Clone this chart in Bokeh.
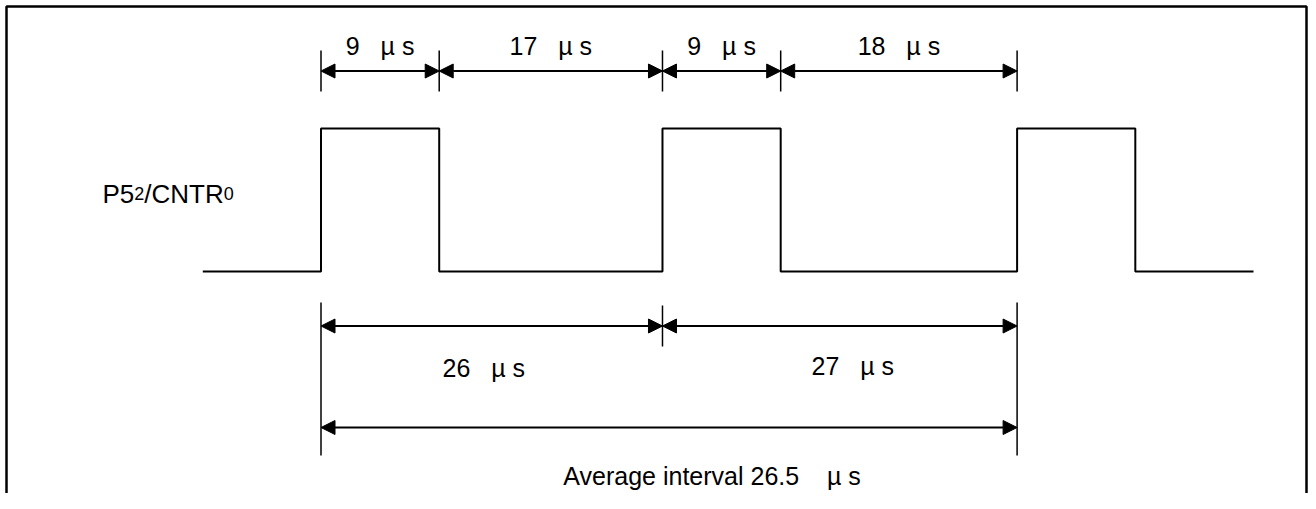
from bokeh.plotting import figure
from bokeh.models import Range1d, Arrow, NormalHead, ColumnDataSource
from bokeh.embed import file_html
from bokeh.resources import INLINE
from bokeh.core.properties import value

# ---------------- data (times in microseconds) ----------------
rise_times = [0, 26, 53]          # rising edges of P52/CNTR0
high_widths = [9, 9, 9]           # high-level duration of each pulse
trace_start = -9                  # where the drawn trace begins
trace_end = 71                    # where the drawn trace ends
top_marks = [0, 9, 26, 35, 53]    # dimension marks above the trace
top_values = ["9", "17", "9", "18"]
period_marks = [0, 26, 53]        # period dimension marks below the trace
period_values = ["26", "27"]
average_value = "26.5"
signal_parts = ["P5", "2", "/CNTR", "0"]   # normal / small / normal / small
unit = "\u00b5\u00a0s"

# ---------------- layout ----------------
W, H = 1308, 493
PX_PER_US = 13.134
T0_PX = 320.5                     # pixel column of t = 0 inside the figure
FONT = value("Liberation Sans")
FS = 25
FS_SIG = 26
FS_SMALL = 18
HEAD = 14


def px(dx):
    """pixel distance -> microseconds"""
    return dx / PX_PER_US


def t_at(xpx):
    return (xpx - T0_PX) / PX_PER_US


LOW_Y, HIGH_Y = 271, 128
TOP_ARROW_Y, TOP_TICK = 70.5, (50, 91)
TOP_TEXT_Y = 45
BOT_ARROW_Y, AVG_ARROW_Y = 325.5, 427
BOT_TICK_END, BOT_TICK_MID = (302, 455), (305, 346)
BOT_TEXT_Y = [367, 365]
BOT_TEXT_DX = [-8, 13]
AVG_TEXT_Y, AVG_TEXT_DX = 475, 43
SIG_TEXT_X, SIG_TEXT_Y = 102, 193
FRAME_L, FRAME_T, FRAME_R = 6, 6, W - 2

p = figure(width=W, height=H, output_backend="svg", toolbar_location=None,
           x_range=Range1d(t_at(0), t_at(W)), y_range=Range1d(H, 0),
           min_border=0)
p.axis.visible = False
p.grid.visible = False
p.outline_line_color = None
p.background_fill_color = "white"
p.border_fill_color = "white"

# frame (bottom edge runs past the picture)
p.line(x=[t_at(FRAME_L), t_at(FRAME_L), t_at(FRAME_R), t_at(FRAME_R)],
       y=[H, FRAME_T, FRAME_T, H], line_color="black", line_width=2.5)

# signal trace
xs, ys = [trace_start], [LOW_Y]
for r, w in zip(rise_times, high_widths):
    xs += [r, r, r + w, r + w]
    ys += [LOW_Y, HIGH_Y, HIGH_Y, LOW_Y]
xs.append(trace_end)
ys.append(LOW_Y)
p.line(x=xs, y=ys, line_color="black", line_width=2)

# top dimension ticks + arrows
p.segment(x0=top_marks, y0=[TOP_TICK[0]] * len(top_marks),
          x1=top_marks, y1=[TOP_TICK[1]] * len(top_marks),
          line_color="black", line_width=1.5)


def add_arrows(x0s, x1s, y):
    src = ColumnDataSource(dict(x0=x0s, x1=x1s, y=[y] * len(x0s)))
    p.add_layout(Arrow(x_start="x0", y_start="y", x_end="x1", y_end="y", source=src,
                       line_color="black", line_width=2,
                       start=NormalHead(size=HEAD, fill_color="black", line_color="black", line_width=1),
                       end=NormalHead(size=HEAD, fill_color="black", line_color="black", line_width=1)))


add_arrows(top_marks[:-1], top_marks[1:], TOP_ARROW_Y)

top_x = [(a + b) / 2 for a, b in zip(top_marks[:-1], top_marks[1:])]
p.text(x=top_x, y=[TOP_TEXT_Y] * len(top_x),
       text=[v + "\u00a0\u00a0\u00a0" + unit for v in top_values],
       text_font=FONT, text_font_size=f"{FS}px", text_align="center",
       text_baseline="alphabetic", text_color="black")

# bottom dimension ticks + arrows
y0s, y1s = [], []
for i, m in enumerate(period_marks):
    rng = BOT_TICK_END if i in (0, len(period_marks) - 1) else BOT_TICK_MID
    y0s.append(rng[0])
    y1s.append(rng[1])
p.segment(x0=period_marks, y0=y0s, x1=period_marks, y1=y1s,
          line_color="black", line_width=1.5)
add_arrows(period_marks[:-1], period_marks[1:], BOT_ARROW_Y)
add_arrows([period_marks[0]], [period_marks[-1]], AVG_ARROW_Y)

bot_x = [(a + b) / 2 + px(d) for a, b, d in zip(period_marks[:-1], period_marks[1:], BOT_TEXT_DX)]
p.text(x=bot_x, y=BOT_TEXT_Y,
       text=[v + "\u00a0\u00a0\u00a0" + unit for v in period_values],
       text_font=FONT, text_font_size=f"{FS}px", text_align="center",
       text_baseline="alphabetic", text_color="black")

avg_x = (period_marks[0] + period_marks[-1]) / 2 + px(AVG_TEXT_DX)
p.text(x=[avg_x], y=[AVG_TEXT_Y],
       text=["Average interval " + average_value + "\u00a0\u00a0\u00a0\u00a0" + unit],
       text_font=FONT, text_font_size=f"{FS}px", text_align="center",
       text_baseline="alphabetic", text_color="black")

# signal name with small (baseline-aligned) digits
ADV = {"P": .667, "5": .556, "2": .556, "0": .556, "/": .278, "C": .722, "N": .722, "T": .611, "R": .722}
cur = SIG_TEXT_X
for i, part in enumerate(signal_parts):
    size = FS_SIG if i % 2 == 0 else FS_SMALL
    p.text(x=[t_at(cur)], y=[SIG_TEXT_Y], text=[part], text_font=FONT,
           text_font_size=f"{size}px", text_align="left",
           text_baseline="alphabetic", text_color="black")
    cur += sum(ADV[c] for c in part) * size

open("out.html", "w").write(file_html(p, INLINE))
